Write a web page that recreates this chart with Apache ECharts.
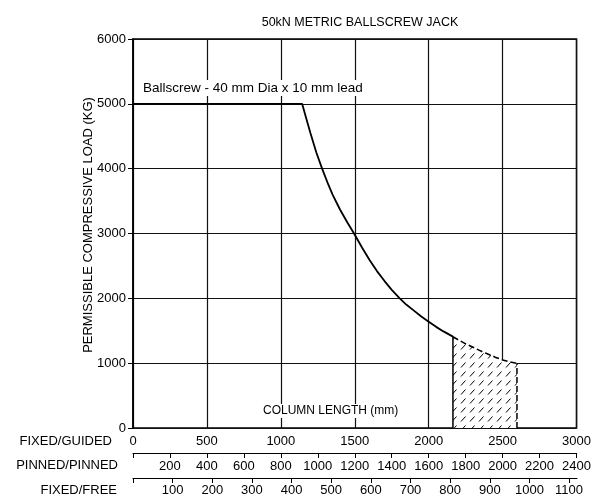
<!DOCTYPE html>
<html>
<head>
<meta charset="utf-8">
<script src="https://cdn.jsdelivr.net/npm/echarts@6/dist/echarts.min.js"></script>
<style>
html,body{margin:0;padding:0;background:#fff;}
#chart{width:594px;height:499px;}
</style>
</head>
<body>
<div id="chart"></div>
<script>
// ---- data ----
const titleText = '50kN METRIC BALLSCREW JACK';
const yAxisName = 'PERMISSIBLE COMPRESSIVE LOAD (KG)';
const curveNote = 'Ballscrew - 40 mm Dia x 10 mm lead';
const xNote = 'COLUMN LENGTH (mm)';
const rowNames = ['FIXED/GUIDED', 'PINNED/PINNED', 'FIXED/FREE'];

// solid part of the curve (column length mm, load kg)
const solidLength = [0, 1144, 1170, 1200, 1240, 1279, 1320, 1350, 1400, 1450, 1495, 1550, 1600, 1650, 1700, 1750, 1804, 1850, 1900, 1950, 2000, 2050, 2100, 2164];
const solidLoad   = [5000, 5000, 4790, 4550, 4250, 4000, 3760, 3600, 3370, 3170, 3000, 2780, 2590, 2420, 2270, 2130, 2000, 1900, 1810, 1720, 1640, 1560, 1490, 1409];
// dashed (hatched) part
const dashedLength = [2164, 2200, 2250, 2300, 2350, 2400, 2450, 2500, 2550, 2597];
const dashedLoad   = [1409, 1360, 1298, 1245, 1190, 1140, 1093, 1050, 1020, 998];

// axes
const guidedRange = [0, 3000];
const guidedStep = 500;
const loadRange = [0, 6000];
const loadStep = 1000;
const pinnedRange = [0, 2400];
const pinnedTicks = [0, 200, 400, 600, 800, 1000, 1200, 1400, 1600, 1800, 2000, 2200, 2400];
const pinnedLabels = [200, 400, 600, 800, 1000, 1200, 1400, 1600, 1800, 2000, 2200, 2400];
const freeRange = [0, 1120];
const freeTicks = [0, 100, 200, 300, 400, 500, 600, 700, 800, 900, 1000, 1100];
const freeLabels = [100, 200, 300, 400, 500, 600, 700, 800, 900, 1000, 1100];

// ---- build ----
const FONT = '"Liberation Sans", Arial, sans-serif';
const solidData = solidLength.map((x, i) => [x, solidLoad[i]]);
const dashedData = dashedLength.map((x, i) => [x, dashedLoad[i]]);
const lastSolid = solidData[solidData.length - 1];
const lastDashed = dashedData[dashedData.length - 1];
const plain = v => String(v);

// hatch pattern (opaque white with short slanted dashes)
const pat = document.createElement('canvas');
pat.width = 9; pat.height = 9;
const pc = pat.getContext('2d');
pc.fillStyle = '#fff';
pc.fillRect(0, 0, 9, 9);
pc.strokeStyle = '#000';
pc.lineWidth = 1;
pc.beginPath();
pc.moveTo(2, 7.5);
pc.lineTo(6.5, 2.5);
pc.stroke();

const chart = echarts.init(document.getElementById('chart'), null, {renderer: 'canvas'});
const lbl = {color: '#000', fontSize: 13, fontFamily: FONT, formatter: plain};

const option = {
  backgroundColor: '#fff',
  animation: false,
  title: {
    text: titleText, left: 355, top: 11, textAlign: 'center',
    textStyle: {color: '#000', fontSize: 12.5, fontWeight: 'normal', fontFamily: FONT}
  },
  grid: [
    {left: 133, top: 39, width: 444, height: 389, show: true, borderColor: '#000', borderWidth: 1.5, backgroundColor: 'transparent'},
    {left: 133, top: 453, width: 444, height: 0},
    {left: 133, top: 478, width: 444, height: 0}
  ],
  xAxis: [
    {gridIndex: 0, type: 'value', min: guidedRange[0], max: guidedRange[1], interval: guidedStep,
     axisLine: {show: false}, axisTick: {show: false},
     axisLabel: Object.assign({margin: 7}, lbl),
     splitLine: {show: true, lineStyle: {color: '#111', width: 1.2}}},
    {gridIndex: 1, type: 'value', min: pinnedRange[0], max: pinnedRange[1],
     axisLine: {show: true, lineStyle: {color: '#000', width: 1.2}},
     axisTick: {show: true, length: 5, lineStyle: {color: '#000'}, customValues: pinnedTicks},
     axisLabel: Object.assign({margin: 7, customValues: pinnedLabels}, lbl),
     splitLine: {show: false}},
    {gridIndex: 2, type: 'value', min: freeRange[0], max: freeRange[1],
     axisLine: {show: true, lineStyle: {color: '#000', width: 1.2}},
     axisTick: {show: true, length: 5, lineStyle: {color: '#000'}, customValues: freeTicks},
     axisLabel: Object.assign({margin: 6, customValues: freeLabels}, lbl),
     splitLine: {show: false}}
  ],
  yAxis: [
    {gridIndex: 0, type: 'value', min: loadRange[0], max: loadRange[1], interval: loadStep,
     axisLine: {show: true, lineStyle: {color: '#000', width: 1.5}},
     axisTick: {show: true, length: 5, lineStyle: {color: '#000'}},
     axisLabel: Object.assign({margin: 7}, lbl),
     splitLine: {show: true, lineStyle: {color: '#111', width: 1.2}}},
    {gridIndex: 1, type: 'value', show: false},
    {gridIndex: 2, type: 'value', show: false}
  ],
  series: [
    {type: 'line', xAxisIndex: 0, yAxisIndex: 0, data: solidData, smooth: false, symbol: 'none',
     lineStyle: {color: '#000', width: 1.8}, z: 5},
    {type: 'line', xAxisIndex: 0, yAxisIndex: 0, data: dashedData, smooth: false, symbol: 'none',
     lineStyle: {color: '#000', width: 1.6, type: [6, 3]},
     areaStyle: {color: {image: pat, repeat: 'repeat'}, opacity: 1, origin: 'start'}, z: 4},
    {type: 'line', xAxisIndex: 0, yAxisIndex: 0, data: [[lastSolid[0], 0], lastSolid], symbol: 'none',
     lineStyle: {color: '#000', width: 1.5}, z: 5},
    {type: 'line', xAxisIndex: 0, yAxisIndex: 0, data: [[lastDashed[0], 0], lastDashed], symbol: 'none',
     lineStyle: {color: '#000', width: 1.5, type: [6, 3]}, z: 5}
  ],
  graphic: [
    {type: 'text', left: 141, top: 80, z: 10,
     style: {text: curveNote, fill: '#000', font: '13.5px ' + FONT, backgroundColor: '#fff', padding: [1, 2]}},
    {type: 'text', left: 261, top: 404, z: 10,
     style: {text: xNote, fill: '#000', font: '12px ' + FONT, backgroundColor: '#fff', padding: [1, 2]}},
    {type: 'text', x: 88, y: 225, rotation: Math.PI / 2,
     style: {text: yAxisName, fill: '#000', font: '13px ' + FONT, textAlign: 'center', textVerticalAlign: 'middle'}},
    {type: 'text', right: 594 - 112, top: 435, style: {text: rowNames[0], fill: '#000', font: '13px ' + FONT}},
    {type: 'text', right: 594 - 118, top: 459, style: {text: rowNames[1], fill: '#000', font: '13px ' + FONT}},
    {type: 'text', right: 594 - 117, top: 484, style: {text: rowNames[2], fill: '#000', font: '13px ' + FONT}}
  ]
};
chart.setOption(option);
</script>
</body>
</html>
